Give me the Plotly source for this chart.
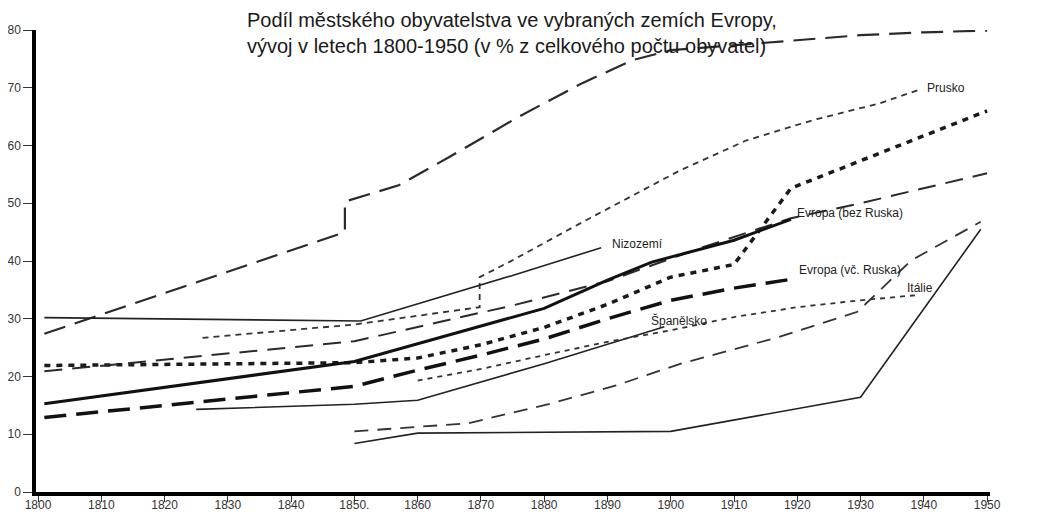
import plotly.graph_objects as go

# ---- data (years, % urban population) ----
anglie_x = [1801, 1848.5, 1848.5, 1857, 1865, 1876, 1886, 1894, 1900, 1910, 1920, 1930, 1940, 1950]
anglie_y = [27.4, 45.0, 50.3, 53.1, 58.0, 65.0, 70.8, 74.8, 76.5, 77.4, 78.3, 79.1, 79.6, 79.9]

prusko_x = [1826, 1850, 1869.8, 1869.8, 1874.6, 1886, 1901.5, 1912, 1922.5, 1933, 1939.4]
prusko_y = [26.7, 29.0, 32.0, 37.2, 39.9, 46.7, 55.7, 60.9, 64.4, 67.3, 69.7]

dansko_x = [1801, 1850, 1860, 1870, 1880, 1890, 1900, 1910, 1919, 1950]
dansko_y = [21.9, 22.4, 23.2, 25.5, 28.5, 32.5, 37.2, 39.4, 52.6, 66.0]

francie_x = [1801, 1850, 1875, 1890, 1904.6, 1919, 1930, 1950]
francie_y = [20.9, 26.1, 32.3, 36.5, 42.2, 47.4, 50.0, 55.2]

evropa_bez_x = [1801, 1850, 1880, 1890, 1897, 1905, 1910, 1919]
evropa_bez_y = [15.3, 22.6, 31.8, 36.7, 39.8, 42.2, 43.6, 47.2]

evropa_vc_x = [1801, 1850, 1860, 1870, 1880, 1890, 1900, 1910, 1920]
evropa_vc_y = [12.9, 18.3, 21.1, 23.7, 26.5, 30.0, 33.2, 35.3, 37.0]

nizozemi_x = [1801, 1851, 1875, 1889]
nizozemi_y = [30.2, 29.6, 37.5, 42.3]

spanelsko_x = [1825, 1850, 1860, 1880, 1899]
spanelsko_y = [14.3, 15.2, 15.9, 22.2, 28.6]

italie_x = [1860, 1870, 1880, 1890, 1900, 1910, 1920, 1930, 1939]
italie_y = [19.3, 21.3, 23.7, 26.0, 28.0, 30.3, 32.0, 33.2, 34.1]

svedsko_x = [1850, 1868, 1881, 1891.5, 1901.5, 1917, 1929.5, 1938, 1949]
svedsko_y = [10.5, 11.9, 15.3, 18.5, 22.2, 26.8, 31.2, 40.1, 46.8]

rusko_x = [1850, 1860, 1900, 1930, 1949]
rusko_y = [8.4, 10.2, 10.5, 16.4, 45.5]

x_ticks = list(range(1800, 1951, 10))
x_tick_text = [str(t) for t in x_ticks]
x_tick_text[5] = "1850."
y_ticks = list(range(0, 81, 10))

title_text = ("Podíl městského obyvatelstva ve vybraných zemích Evropy,<br>"
              "vývoj v letech 1800-1950 (v % z celkového počtu obyvatel)")

labels = [
    ("Anglie<br>a Wales", 1951, 80.2),
    ("Prusko", 1940.2, 69.9),
    ("Dánsko", 1951.3, 65.1),
    ("Francie", 1951.3, 55.2),
    ("Švédsko", 1951.1, 47.4),
    ("Rusko", 1951.1, 44.3),
    ("Nizozemí", 1890.4, 43.0),
    ("Evropa (bez Ruska)", 1919.6, 48.3),
    ("Evropa (vč. Ruska)", 1920.0, 38.5),
    ("Itálie", 1937.0, 35.4),
    ("Španělsko", 1896.5, 29.7),
]

# ---- styles ----
series = [
    ("Anglie a Wales", anglie_x, anglie_y, dict(color="#2a2a2a", width=2.2, dash="22px,10px")),
    ("Prusko", prusko_x, prusko_y, dict(color="#333333", width=1.8, dash="6px,5px")),
    ("Dánsko", dansko_x, dansko_y, dict(color="#1a1a1a", width=3.5, dash="6px,6px")),
    ("Francie", francie_x, francie_y, dict(color="#2a2a2a", width=2.0, dash="18px,10px")),
    ("Evropa (bez Ruska)", evropa_bez_x, evropa_bez_y, dict(color="#111111", width=3.0)),
    ("Evropa (vč. Ruska)", evropa_vc_x, evropa_vc_y, dict(color="#111111", width=3.5, dash="22px,10px")),
    ("Nizozemí", nizozemi_x, nizozemi_y, dict(color="#222222", width=1.6)),
    ("Španělsko", spanelsko_x, spanelsko_y, dict(color="#222222", width=1.6)),
    ("Itálie", italie_x, italie_y, dict(color="#333333", width=1.8, dash="5px,5px")),
    ("Švédsko", svedsko_x, svedsko_y, dict(color="#333333", width=1.8, dash="14px,9px")),
    ("Rusko", rusko_x, rusko_y, dict(color="#222222", width=1.6)),
]

fig = go.Figure()
for name, xs, ys, line in series:
    fig.add_trace(go.Scatter(x=xs, y=ys, mode="lines", name=name, line=line,
                             showlegend=False, hoverinfo="x+y+name"))

font_family = "Liberation Sans, Arial, sans-serif"

fig.add_annotation(text=title_text, xref="paper", yref="paper", x=0.219, y=1.049,
                   xanchor="left", yanchor="top", align="left", showarrow=False,
                   font=dict(family=font_family, size=20, color="#1a1a1a"))

for txt, lx, ly in labels:
    fig.add_annotation(text=txt, x=lx, y=ly, xref="x", yref="y", xanchor="left",
                       yanchor="middle", align="left", showarrow=False,
                       font=dict(family=font_family, size=12, color="#222222"))

# the page body adds an 8px offset, so margins are shifted to compensate
fig.update_layout(
    width=1040, height=517,
    margin=dict(l=28, r=58, t=22, b=33),
    paper_bgcolor="white", plot_bgcolor="white",
    font=dict(family=font_family, size=12, color="#333333"),
    xaxis=dict(range=[1799.68, 1950.46], tickvals=x_ticks, ticktext=x_tick_text,
               showgrid=False, zeroline=False, showline=True, linecolor="black",
               linewidth=3.5, ticks="outside", ticklen=6, tickwidth=1.2, tickcolor="#333",
               tickfont=dict(size=12, color="#333"), automargin=False,
               ticklabelstandoff=-7),
    yaxis=dict(range=[0, 80], tickvals=y_ticks, showgrid=False, zeroline=False,
               showline=True, linecolor="black", linewidth=3.5, ticks="outside",
               ticklen=9, tickwidth=1.2, tickcolor="#333",
               tickfont=dict(size=12, color="#333"), automargin=False),
)

fig.write_html("out.html")
